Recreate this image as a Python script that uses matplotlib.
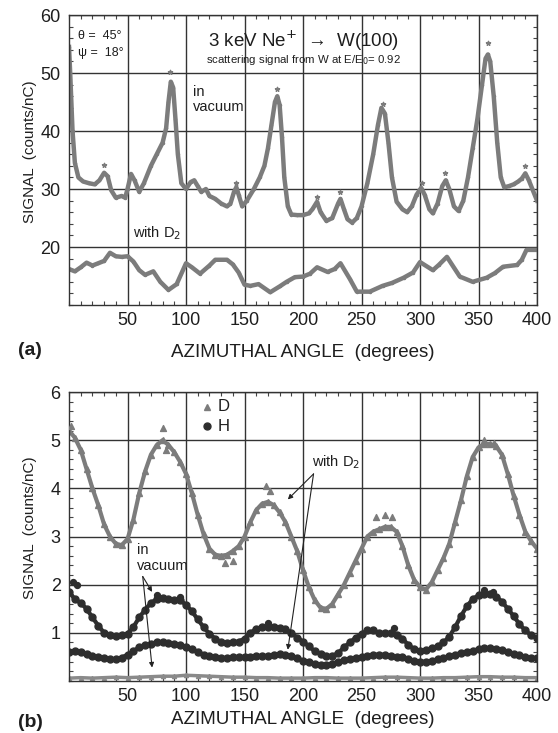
import matplotlib
matplotlib.use("Agg")
import matplotlib.pyplot as plt
import numpy as np
from matplotlib.ticker import MultipleLocator
from matplotlib import font_manager

plt.rcParams['font.family'] = ['Liberation Sans', 'DejaVu Sans']

names = sorted({f.name for f in font_manager.fontManager.ttflist})
NARROW = "Liberation Sans Narrow" if "Liberation Sans Narrow" in names else None

# ---- panel (a): Ne scattering signal from W ----
vac_x = [0, 1, 3, 5, 8, 12, 17, 22, 26, 30, 33, 36, 40, 45, 48, 50, 53, 56, 60, 64,
         70, 75, 80, 83, 85, 87, 89, 91, 93, 96, 100, 104, 107, 110, 113, 117, 120,
         125, 130, 135, 138, 141, 143, 145, 148, 152, 158, 163, 167, 170, 173, 176,
         178, 180, 182, 184, 187, 190, 195, 200, 205, 208, 212, 215, 220, 225, 230,
         232, 235, 238, 242, 246, 250, 255, 260, 264, 267, 270, 273, 276, 280, 285,
         289, 293, 297, 301, 304, 308, 311, 315, 319, 322, 325, 329, 333, 337, 341,
         345, 349, 353, 356, 358, 360, 363, 366, 369, 372, 376, 380, 384, 387, 390,
         393, 396, 398, 400]
vac_y = [54.5, 50, 40, 34.5, 32, 31.3, 31.0, 30.8, 31.5, 32.8, 32.2, 29.8, 28.5, 28.8,
         28.5, 30, 32.6, 31.5, 29.5, 31, 34, 36, 38, 40.5, 45, 48.5, 47.5, 42, 36, 31,
         30, 31.2, 31.5, 30.5, 29.5, 30, 28.8, 28.3, 27.5, 27, 27.5, 29.5, 30.3, 29,
         27, 28, 30, 32, 34, 37, 41, 45, 46, 44.5, 39, 32, 27, 25.6, 25.5, 25.5, 25.8,
         26.5, 27.8, 26, 24.5, 25, 27.5, 28.3, 26.5, 24.8, 24.2, 25, 27, 31, 36, 41,
         44, 43, 38, 32, 27.8, 26.5, 26, 27, 29, 30.2, 29, 26.5, 25.8, 27.5, 30.5,
         31.5, 30, 27, 26.2, 28, 32, 37, 42, 48, 52.5, 53.2, 52, 46, 38, 32, 30.3,
         30.5, 30.8, 31.3, 31.8, 32.7, 31.5, 30, 29, 28]

d2_x = [0, 5, 10, 15, 20, 25, 30, 35, 40, 45, 50, 55, 60, 65, 72, 78, 85, 92, 100,
        105, 112, 120, 125, 135, 140, 145, 150, 155, 162, 172, 180, 186, 193, 200,
        206, 212, 221, 227, 232, 240, 246, 257, 268, 276, 286, 294, 300, 311, 316,
        323, 334, 345, 357, 364, 371, 383, 387, 391, 400]
d2_y = [16.2, 15.8, 16.5, 17.3, 16.8, 17.2, 17.6, 19.0, 18.4, 18.3, 18.4, 17.5, 16.0,
        15.2, 15.8, 14.0, 12.6, 13.6, 17.2, 16.5, 15.4, 16.8, 17.8, 17.8, 17.0, 15.6,
        13.5, 13.3, 13.6, 12.2, 13.2, 14.0, 14.8, 14.9, 15.4, 16.5, 15.7, 16.2, 17.2,
        14.5, 12.3, 12.3, 13.3, 13.8, 14.7, 15.6, 17.4, 16.0, 16.9, 18.3, 14.9, 14.0,
        14.7, 15.5, 16.6, 16.9, 17.8, 19.5, 19.5]

star_x = [30, 86, 143, 178, 212, 232, 268, 302, 321, 358, 390]
star_y = [34.2, 50.2, 31.0, 47.3, 28.6, 29.5, 44.6, 31.0, 32.8, 55.2, 34.0]

# ---- panel (b): recoil signal, D and H ----
ang_b = list(range(0, 401, 5))
D_d2 = [5.2, 5.05, 4.8, 4.4, 4.0, 3.65, 3.25, 3.0, 2.85, 2.82, 2.95, 3.35, 3.9, 4.35,
        4.7, 4.9, 5.0, 4.9, 4.75, 4.55, 4.3, 3.9, 3.45, 3.05, 2.75, 2.62, 2.6, 2.62,
        2.7, 2.8, 3.0, 3.3, 3.55, 3.68, 3.72, 3.65, 3.5, 3.3, 3.0, 2.7, 2.3, 1.95,
        1.68, 1.52, 1.5, 1.6, 1.8, 2.0, 2.25, 2.5, 2.75, 3.0, 3.1, 3.15, 3.2, 3.2,
        3.1, 2.8, 2.4, 2.1, 1.95, 1.9, 2.05, 2.3, 2.55, 2.85, 3.3, 3.75, 4.25, 4.65,
        4.85, 4.92, 4.92, 4.88, 4.7, 4.3, 3.85, 3.45, 3.1, 2.9, 2.75]
D_extra_x = [2, 80, 83, 133, 140, 168, 172, 262, 270, 276, 355, 363]
D_extra_y = [5.3, 5.25, 4.8, 2.45, 2.5, 4.05, 3.95, 3.4, 3.45, 3.4, 5.0, 4.95]

H_vac = [1.85, 1.7, 1.62, 1.5, 1.32, 1.15, 1.0, 0.95, 0.93, 0.95, 0.98, 1.12, 1.32,
         1.48, 1.62, 1.7, 1.72, 1.7, 1.68, 1.68, 1.58, 1.45, 1.28, 1.12, 0.98, 0.88,
         0.8, 0.78, 0.8, 0.82, 0.88, 1.0, 1.08, 1.12, 1.12, 1.12, 1.1, 1.08, 1.0, 0.9,
         0.82, 0.72, 0.62, 0.56, 0.52, 0.52, 0.58, 0.7, 0.8, 0.9, 0.98, 1.05, 1.05,
         1.0, 1.0, 1.0, 0.95, 0.88, 0.75, 0.66, 0.62, 0.64, 0.68, 0.72, 0.8, 0.92,
         1.12, 1.35, 1.55, 1.7, 1.78, 1.8, 1.8, 1.75, 1.65, 1.5, 1.35, 1.18, 1.05,
         0.95, 0.9]
H_extra_x = [3, 7, 75, 95, 170, 278, 355, 362]
H_extra_y = [2.05, 2.0, 1.78, 1.75, 1.2, 1.1, 1.9, 1.85]

H_d2 = [0.6, 0.62, 0.6, 0.57, 0.52, 0.5, 0.47, 0.45, 0.45, 0.48, 0.55, 0.62, 0.7,
        0.75, 0.77, 0.8, 0.8, 0.78, 0.77, 0.75, 0.7, 0.66, 0.6, 0.55, 0.52, 0.5, 0.48,
        0.48, 0.5, 0.5, 0.5, 0.5, 0.52, 0.52, 0.52, 0.55, 0.56, 0.55, 0.52, 0.48,
        0.42, 0.4, 0.36, 0.34, 0.34, 0.36, 0.4, 0.43, 0.46, 0.48, 0.5, 0.52, 0.54,
        0.55, 0.54, 0.52, 0.5, 0.5, 0.46, 0.42, 0.4, 0.4, 0.42, 0.45, 0.48, 0.52,
        0.55, 0.58, 0.6, 0.63, 0.66, 0.68, 0.68, 0.66, 0.64, 0.6, 0.56, 0.54, 0.5,
        0.48, 0.48]

ang_vac = list(range(0, 401, 10))
D_vac = [0.06, 0.07, 0.06, 0.07, 0.08, 0.07, 0.08, 0.09, 0.1, 0.1, 0.12, 0.11, 0.1,
         0.09, 0.08, 0.08, 0.07, 0.07, 0.06, 0.06, 0.06, 0.07, 0.07, 0.06, 0.06, 0.06,
         0.07, 0.08, 0.08, 0.07, 0.06, 0.06, 0.07, 0.07, 0.08, 0.09, 0.09, 0.08, 0.08,
         0.07, 0.07]

GRAY = "#7c7c7c"
DARK = "#2e2e2e"
TXT = "#1e1e1e"

fig = plt.figure(figsize=(5.58, 7.33), dpi=100)
ax1 = fig.add_axes([0.1237, 0.5839, 0.8387, 0.3956])
ax2 = fig.add_axes([0.1237, 0.0709, 0.8387, 0.3943])


def style_axes(ax, ymin, ymax, yminor, ylabels, xpad):
    ax.set_xlim(0, 400)
    ax.set_ylim(ymin, ymax)
    ax.xaxis.set_minor_locator(MultipleLocator(10))
    ax.yaxis.set_minor_locator(MultipleLocator(yminor))
    ax.set_xticks(range(50, 401, 50))
    ax.set_yticks(ylabels)
    ax.grid(which="major", color="#333333", linewidth=1.0)
    ax.tick_params(which="major", length=0, labelsize=13, colors=TXT)
    ax.tick_params(axis="x", which="major", pad=5)
    ax.tick_params(axis="y", which="major", pad=6)
    ax.tick_params(which="minor", direction="in", length=3, width=0.8,
                   top=True, right=True, color="#444444")
    for s in ax.spines.values():
        s.set_color("#333333")
        s.set_linewidth(1.0)
    ax.set_xlabel("AZIMUTHAL ANGLE  (degrees)", fontsize=13.5, labelpad=xpad, color=TXT)
    if NARROW:
        ax.set_ylabel("SIGNAL  (counts/nC)", fontsize=13, color=TXT,
                      family=[NARROW, "Liberation Sans"])
    else:
        ax.set_ylabel("SIGNAL  (counts/nC)", fontsize=11, color=TXT)
    ax.yaxis.set_label_coords(-0.068, 0.53)


# panel (a)
ax1.plot(vac_x, vac_y, color=GRAY, lw=3.2, marker='.', ms=3)
ax1.plot(d2_x, d2_y, color=GRAY, lw=3.2, marker='.', ms=3)
ax1.scatter(star_x, star_y, marker='*', s=10, color=GRAY, zorder=3)
style_axes(ax1, 10, 60, 2, [20, 30, 40, 50, 60], 11)

ax1.text(7.7, 56.3, "θ =  45°", fontsize=9, va="center", color=TXT)
ax1.text(7.7, 53.5, "ψ =  18°", fontsize=9, va="center", color=TXT)
ax1.text(200, 55.6, "3 keV Ne$^{+}$  →  W(100)", fontsize=13.5, ha="center",
         va="center", color=TXT)
ax1.text(200, 52.3, "scattering signal from W at E/E$_{0}$= 0.92", fontsize=8.2,
         ha="center", va="center", color=TXT)
ax1.text(106, 45.5, "in\nvacuum", fontsize=10.5, va="center", linespacing=1.1, color=TXT)
ax1.text(55, 22.4, "with D$_2$", fontsize=10.5, va="center", color=TXT)

# panel (b)
ax2.plot(ang_vac, D_vac, color="#8a8a8a", lw=2.5, marker='^', ms=3)
ax2.plot(ang_b, D_d2, color=GRAY, lw=3, marker='^', ms=4.5)
ax2.scatter(D_extra_x, D_extra_y, marker='^', s=18, color=GRAY, zorder=3)
ax2.plot(ang_b, H_vac, color=DARK, lw=3, marker='o', ms=5)
ax2.plot(ang_b, H_d2, color=DARK, lw=3, marker='o', ms=5)
ax2.scatter(H_extra_x, H_extra_y, marker='o', s=18, color=DARK, zorder=3)
style_axes(ax2, 0, 6, 0.2, [1, 2, 3, 4, 5, 6], 4)

ax2.plot([118], [5.69], marker='^', color=GRAY, ms=5)
ax2.plot([118], [5.29], marker='o', color=DARK, ms=5)
ax2.text(127, 5.69, "D", fontsize=12, va="center", color=TXT)
ax2.text(127, 5.29, "H", fontsize=12, va="center", color=TXT)

ax2.text(208, 4.55, "with D$_2$", fontsize=10.5, va="center", color=TXT)
for end in [(187, 3.77), (187, 0.65)]:
    ax2.annotate("", xy=end, xytext=(209, 4.3),
                 arrowprops=dict(arrowstyle="-|>", color="#222222", lw=0.8,
                                 mutation_scale=7, shrinkA=0, shrinkB=0))
ax2.text(58, 2.73, "in", fontsize=10.5, va="center", color=TXT)
ax2.text(58, 2.38, "vacuum", fontsize=10.5, va="center", color=TXT)
for end in [(71, 1.85), (71, 0.28)]:
    ax2.annotate("", xy=end, xytext=(63, 2.17),
                 arrowprops=dict(arrowstyle="-|>", color="#222222", lw=0.8,
                                 mutation_scale=7, shrinkA=0, shrinkB=0))

fig.text(0.032, 0.5225, "(a)", fontsize=14, fontweight="bold", va="center", color=TXT)
fig.text(0.032, 0.015, "(b)", fontsize=14, fontweight="bold", va="center", color=TXT)

fig.savefig("out.png", dpi=100)
